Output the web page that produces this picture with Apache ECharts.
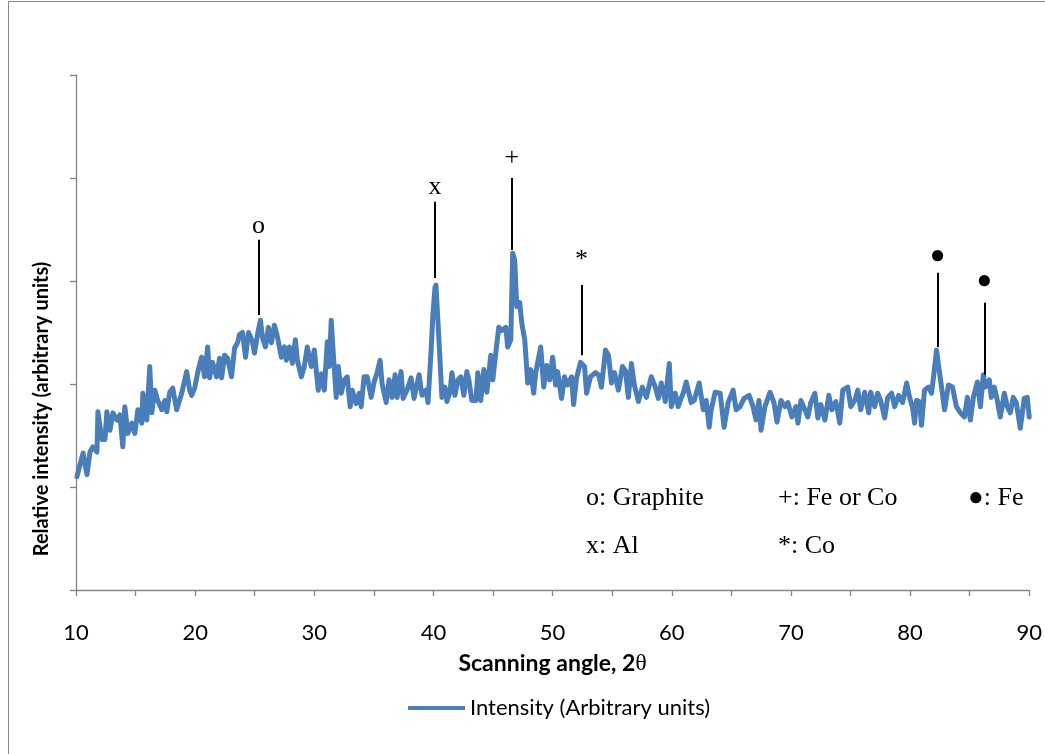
<!DOCTYPE html>
<html>
<head>
<meta charset="utf-8">
<script src="https://cdn.jsdelivr.net/npm/echarts@6/dist/echarts.min.js"></script>
<style>
html,body{margin:0;padding:0;background:#fff;}
#chart{width:1045px;height:754px;}
</style>
</head>
<body>
<div id="chart"></div>
<script>
// Scanning angle (2θ) and relative intensity
const angle = [
10.08,10.59,10.92,11.17,11.42,11.76,11.84,12.18,12.43,12.59,12.85,13.10,13.43,13.68,13.93,14.10,14.35,14.69,14.94,15.19,
15.52,15.61,15.94,16.19,16.36,16.61,16.86,17.20,17.45,17.62,17.87,18.12,18.45,18.87,19.29,19.54,19.71,19.96,20.21,20.54,
20.79,21.05,21.21,21.46,21.80,22.05,22.22,22.47,22.72,23.05,23.31,23.56,23.72,23.97,24.23,24.48,24.81,24.98,25.23,25.48,
25.65,25.90,26.15,26.40,26.65,26.90,27.24,27.49,27.66,27.91,28.16,28.41,28.58,28.91,29.16,29.41,29.75,30.00,30.33,30.59,
30.84,31.09,31.26,31.42,31.59,31.84,32.01,32.26,32.51,32.76,33.01,33.18,33.51,33.77,33.93,34.18,34.44,34.77,35.02,35.27,
35.52,35.69,36.03,36.28,36.53,36.78,36.95,37.28,37.45,37.78,38.12,38.37,38.79,39.04,39.37,39.54,39.79,39.96,40.13,40.21,
40.29,40.46,40.71,40.96,41.13,41.38,41.55,41.80,42.05,42.30,42.55,42.80,42.97,43.22,43.56,43.72,43.97,44.23,44.48,44.81,
44.98,45.23,45.48,45.73,46.07,46.23,46.49,46.65,46.82,46.99,47.24,47.41,47.66,47.91,48.16,48.41,48.58,49.00,49.25,49.50,
49.75,50.00,50.25,50.42,50.75,51.00,51.26,51.59,51.76,52.01,52.34,52.68,52.85,53.18,53.60,53.85,54.10,54.44,54.69,54.94,
55.19,55.52,55.86,56.11,56.36,56.61,56.86,57.20,57.53,57.87,58.28,58.62,58.87,59.12,59.46,59.79,59.96,60.29,60.54,60.71,
60.96,61.21,61.63,61.88,62.30,62.64,62.89,63.14,63.31,63.64,64.06,64.39,64.73,65.15,65.40,65.73,66.07,66.49,66.82,67.07,
67.32,67.49,67.82,68.24,68.58,68.83,69.16,69.50,69.75,70.08,70.42,70.59,70.84,71.17,71.42,71.67,72.01,72.26,72.51,72.85,
73.18,73.43,73.77,74.10,74.35,74.77,75.02,75.36,75.61,75.86,76.19,76.53,76.69,77.03,77.28,77.53,77.87,78.12,78.45,78.70,
79.04,79.37,79.71,79.96,80.21,80.38,80.54,80.79,80.96,81.21,81.55,81.80,81.97,82.22,82.47,82.64,82.89,83.22,83.56,83.89,
84.23,84.56,84.81,85.06,85.31,85.65,85.90,86.15,86.32,86.65,86.82,87.07,87.32,87.57,87.91,88.16,88.41,88.66,88.91,89.25,
89.58,89.83,90.00
];
const intensity = [
1.10,1.33,1.12,1.34,1.39,1.34,1.73,1.46,1.46,1.73,1.55,1.72,1.65,1.70,1.39,1.78,1.52,1.62,1.52,1.75,
1.62,1.91,1.65,2.17,1.72,1.94,1.84,1.75,1.84,1.73,1.92,1.96,1.75,1.91,2.12,1.94,1.89,1.96,2.11,2.26,
2.07,2.36,2.06,2.21,2.07,2.25,2.06,2.28,2.25,2.07,2.35,2.40,2.48,2.50,2.26,2.50,2.41,2.30,2.48,2.62,
2.45,2.36,2.55,2.40,2.57,2.46,2.26,2.36,2.23,2.36,2.20,2.43,2.23,2.07,2.17,2.36,2.17,2.33,1.94,2.10,
1.94,2.41,2.17,2.62,2.30,1.87,2.17,1.91,2.04,2.07,1.78,1.94,1.81,1.91,1.78,2.07,2.07,1.87,2.02,2.11,
2.23,2.00,1.82,2.04,1.87,2.09,1.87,2.12,1.86,1.94,2.06,1.86,2.09,1.89,1.94,1.82,2.30,2.69,2.94,2.96,
2.79,2.43,1.87,1.97,1.83,1.92,2.11,1.89,2.04,2.07,1.89,2.12,2.04,1.84,1.84,2.11,1.84,2.14,1.92,2.28,
2.04,2.30,2.55,2.52,2.55,2.36,2.43,3.27,3.20,2.75,2.79,2.59,2.43,2.01,2.14,1.91,2.11,2.36,1.97,2.18,
2.04,2.26,1.99,2.12,1.86,2.07,1.99,2.07,1.80,2.06,2.21,2.17,1.91,2.07,2.11,2.09,1.97,2.33,2.28,2.01,
2.11,1.94,2.17,2.13,1.87,2.20,1.99,1.83,1.97,1.87,2.07,1.97,1.86,2.01,1.83,2.20,1.78,1.91,1.78,1.84,
1.91,2.02,1.82,1.84,2.01,1.75,1.84,1.58,1.75,1.92,1.91,1.58,1.82,1.94,1.75,1.78,1.86,1.89,1.78,1.65,
1.84,1.55,1.78,1.92,1.82,1.63,1.84,1.78,1.82,1.68,1.78,1.62,1.84,1.75,1.68,1.82,1.91,1.67,1.80,1.65,
1.89,1.75,1.83,1.62,1.94,1.97,1.78,1.84,1.94,1.75,1.92,1.72,1.92,1.78,1.91,1.84,1.67,1.87,1.91,1.78,
1.89,1.82,2.01,1.87,1.77,1.62,1.84,1.83,1.60,1.94,1.97,1.91,2.07,2.33,2.11,1.97,1.75,1.99,1.97,1.78,
1.72,1.68,1.87,1.65,1.87,2.02,1.78,2.09,1.97,2.04,1.87,1.97,1.84,1.68,1.91,1.78,1.72,1.87,1.82,1.57,
1.86,1.87,1.68
];
const xTicks = [10, 20, 30, 40, 50, 60, 70, 80, 90];

// Peak annotations (marker, angle, line bottom, line top)
const peakSymbols = ['o', 'x', '+', '*', '●', '●'];
const peakAngles  = [25.31, 40.13, 46.57, 52.43, 82.30, 86.23];
const peakLow     = [2.67, 3.03, 3.30, 2.28, 2.36, 2.09];
const peakHigh    = [3.40, 3.77, 4.00, 2.96, 3.08, 2.79];
const peakLabelLift = [-3, -2, 3, 8, 0, 4];

// Key text
const keyRow1 = ['o: Graphite', '+: Fe or Co', '●: Fe'];
const keyRow2 = ['x: Al', '*: Co'];

const yTitle = 'Relative intensity (arbitrary units)';
const seriesName = 'Intensity (Arbitrary units)';
const data = angle.map((a, i) => [a, intensity[i]]);

const markData = peakAngles.map((a, i) => [
  { coord: [a, peakLow[i]], label: { formatter: peakSymbols[i], offset: [0, -peakLabelLift[i]] } },
  { coord: [a, peakHigh[i]] }
]);

const chart = echarts.init(document.getElementById('chart'), null, { renderer: 'canvas' });
const serif = "'Liberation Serif', 'Times New Roman', serif";
const sans = "Lato, 'Liberation Sans', sans-serif";
const axisGray = '#868686';

const keyX = [586, 778, 968];
const graphics = [
  { type: 'rect', shape: { x: 8.5, y: 1.5, width: 1100, height: 800 }, style: { fill: 'none', stroke: axisGray, lineWidth: 1 }, silent: true, z: -1 },
  { type: 'text', x: 42, y: 409, rotation: Math.PI / 2,
    style: { text: yTitle, font: 'bold 20px ' + sans, fill: '#000', align: 'center', verticalAlign: 'middle' } }
];
keyRow1.forEach((t, i) => graphics.push({ type: 'text', left: keyX[i], top: 485, style: { text: t, font: '26px ' + serif, fill: '#000' } }));
keyRow2.forEach((t, i) => graphics.push({ type: 'text', left: keyX[i], top: 533, style: { text: t, font: '26px ' + serif, fill: '#000' } }));

chart.setOption({
  animation: false,
  backgroundColor: '#fff',
  grid: { left: 76, right: 13, top: 75, bottom: 164, containLabel: false },
  xAxis: {
    type: 'value', min: 10, max: 90, interval: 10,
    name: '{a|Scanning angle, 2}{b|θ}',
    nameLocation: 'middle', nameGap: 62,
    nameTextStyle: {
      rich: {
        a: { fontFamily: sans, fontWeight: 'bold', fontSize: 23, color: '#000' },
        b: { fontFamily: serif, fontSize: 24, color: '#000' }
      }
    },
    axisLine: { onZero: false, lineStyle: { color: axisGray, width: 1.3 } },
    axisTick: { show: true, inside: false, length: 6, lineStyle: { color: axisGray, width: 1.3 } },
    minorTick: { show: true, splitNumber: 2, length: 6, lineStyle: { color: axisGray, width: 1.3 } },
    axisLabel: { margin: 32, fontFamily: sans, fontSize: 22, color: '#000', formatter: v => xTicks.includes(v) ? String(v) : '' },
    splitLine: { show: false }
  },
  yAxis: {
    type: 'value', min: 0, max: 5, interval: 1,
    axisLine: { show: true, lineStyle: { color: axisGray, width: 1.3 } },
    axisTick: { show: true, inside: false, length: 6, lineStyle: { color: axisGray, width: 1.3 } },
    axisLabel: { show: false },
    splitLine: { show: false }
  },
  legend: {
    show: true, left: 403, top: 692,
    icon: 'rect', itemWidth: 57, itemHeight: 4,
    textStyle: { fontFamily: sans, fontSize: 22, color: '#000' },
    data: [seriesName]
  },
  series: [{
    name: seriesName,
    type: 'line',
    data: data,
    showSymbol: false, symbol: 'none',
    lineStyle: { color: '#4A7EBB', width: 5, join: 'round', cap: 'round' },
    itemStyle: { color: '#4A7EBB' },
    markLine: {
      silent: true, symbol: ['none', 'none'],
      lineStyle: { color: '#000', width: 2, type: 'solid' },
      label: { show: true, position: 'end', distance: 4, fontFamily: serif, fontSize: 26, color: '#000' },
      data: markData
    }
  }],
  graphic: graphics
});
</script>
</body>
</html>
